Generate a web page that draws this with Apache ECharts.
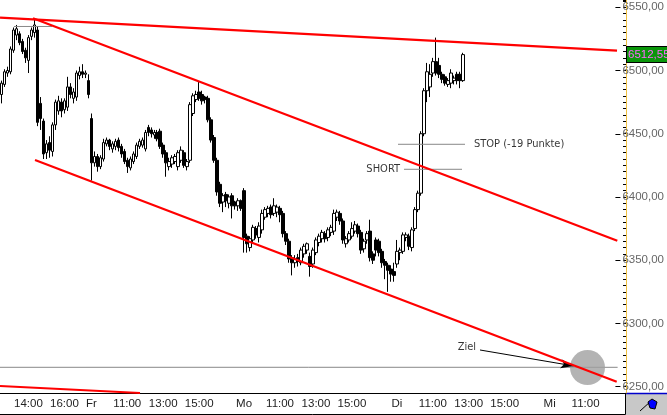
<!DOCTYPE html>
<html>
<head>
<meta charset="utf-8">
<script src="https://cdn.jsdelivr.net/npm/echarts@6/dist/echarts.min.js"></script>
<style>
html,body{margin:0;padding:0;background:#fff;}
#c{width:667px;height:415px;}
</style>
</head>
<body>
<div id="c"></div>
<script>
// ---- sessions (day, first bar time, number of 10-minute bars) ----
const sessions = [['Do','12:30',30],['Fr','09:00',51],['Mo','09:00',51],['Di','09:00',51],['Mi','09:00',26]];
// ---- x tick labels shown ----
const xTickLabels = ['Do 14:00','Do 16:00','Fr 09:00','Fr 11:00','Fr 13:00','Fr 15:00','Mo 09:00','Mo 11:00','Mo 13:00','Mo 15:00','Di 09:00','Di 11:00','Di 13:00','Di 15:00','Mi 09:00','Mi 11:00'];
// ---- candles [open, close, low, high] ----
const thu = [
[6481,6490,6474,6492],[6489,6499,6487,6501],[6498,6500,6495,6503],[6499,6517,6497,6519],[6516,6532,6514,6534],
[6528,6533,6524,6536],[6529,6522,6520,6531],[6523,6515,6513,6525],[6516,6510,6506,6518],[6508,6526,6498,6528],
[6527,6532,6524,6534],[6530,6536,6526,6541],[6532,6459,6456,6535],[6474,6462,6453,6479],[6460,6434,6430,6462],
[6435,6442,6430,6445],[6443,6437,6431,6448],[6436,6457,6432,6459],[6457,6475,6453,6477],[6468,6476,6465,6480],
[6475,6468,6463,6478],[6469,6476,6466,6478],[6471,6487,6468,6495],[6487,6481,6478,6490],[6478,6483,6474,6486],
[6479,6498,6476,6500],[6496,6499,6493,6503],[6499,6497,6494,6505],[6497,6498,6494,6500],[6492,6481,6478,6497]
];
const fri = [
[6462,6427,6413,6466],[6427,6432,6424,6436],[6432,6424,6420,6434],[6424,6431,6422,6433],[6430,6443,6428,6446],
[6442,6445,6440,6447],[6445,6440,6437,6446],[6438,6442,6435,6444],[6440,6444,6437,6446],[6445,6439,6436,6447],
[6440,6434,6431,6442],[6436,6428,6426,6438],[6429,6424,6419,6431],[6423,6430,6421,6432],[6428,6434,6426,6436],
[6432,6441,6430,6443],[6440,6444,6438,6446],[6441,6445,6439,6447],[6438,6451,6436,6453],[6455,6451,6448,6457],
[6453,6450,6447,6455],[6449,6451,6446,6453],[6451,6446,6444,6453],[6452,6440,6438,6454],[6441,6434,6431,6443],
[6435,6427,6416,6437],[6424,6428,6421,6431],[6426,6431,6423,6433],[6428,6432,6426,6434],[6424,6435,6421,6437],
[6429,6437,6427,6440],[6435,6425,6423,6437],[6424,6428,6421,6430],[6429,6473,6427,6475],[6466,6480,6464,6482],
[6477,6481,6475,6484],[6483,6478,6476,6491],[6481,6476,6473,6484],[6479,6477,6474,6480],[6478,6461,6459,6480],
[6461,6445,6443,6463],[6447,6429,6427,6449],[6429,6404,6401,6431],[6410,6395,6392,6412],[6396,6401,6388,6403],
[6402,6397,6392,6404],[6395,6400,6391,6402],[6401,6393,6383,6403],[6396,6393,6390,6397],[6393,6397,6389,6399],
[6397,6391,6389,6398]
];
const mon = [
[6405,6368,6356,6407],[6369,6363,6356,6371],[6360,6367,6357,6369],[6366,6376,6363,6378],[6375,6370,6367,6377],
[6368,6377,6364,6380],[6374,6387,6371,6390],[6384,6390,6382,6392],[6387,6391,6384,6393],[6392,6386,6383,6394],
[6387,6393,6385,6399],[6388,6392,6384,6394],[6391,6386,6380,6393],[6387,6371,6368,6389],[6371,6365,6362,6373],
[6365,6351,6348,6367],[6352,6348,6338,6354],[6348,6351,6344,6354],[6352,6349,6345,6355],[6348,6358,6346,6360],
[6355,6361,6352,6363],[6358,6363,6355,6364],[6353,6345,6337,6356],[6347,6358,6344,6360],[6356,6366,6354,6368],
[6364,6369,6361,6371],[6367,6372,6364,6374],[6371,6367,6364,6373],[6368,6374,6365,6376],[6372,6376,6369,6378],
[6373,6387,6370,6390],[6384,6388,6381,6390],[6387,6381,6378,6389],[6381,6366,6363,6383],[6363,6367,6360,6369],
[6366,6371,6364,6373],[6369,6375,6367,6380],[6373,6378,6371,6381],[6377,6371,6368,6379],[6372,6358,6355,6374],
[6359,6365,6356,6367],[6366,6371,6363,6373],[6373,6352,6349,6382],[6355,6350,6347,6357],[6366,6358,6353,6368],
[6365,6356,6353,6367],[6357,6348,6344,6359],[6349,6346,6335,6351],[6346,6342,6325,6348],[6343,6339,6333,6346],
[6341,6338,6333,6348]
];
const tue = [
[6347,6357,6344,6366],[6356,6358,6350,6360],[6357,6370,6355,6372],[6368,6370,6365,6372],[6369,6361,6358,6371],
[6360,6374,6357,6376],[6375,6390,6373,6392],[6390,6403,6388,6405],[6403,6450,6401,6452],[6450,6484,6448,6486],
[6484,6499,6475,6506],[6487,6497,6479,6505],[6498,6507,6495,6510],[6507,6498,6496,6526],[6504,6497,6494,6510],
[6497,6493,6490,6499],[6495,6490,6488,6497],[6489,6492,6487,6494],[6490,6498,6486,6501],[6492,6494,6489,6496],
[6497,6492,6489,6499],[6497,6492,6486,6499],[6492,6512.55,6491,6514]
];
// ---- drawn lines, endpoints as [bar index, price] ----
const resistanceLine = [[-0.5,6541.75],[205.5,6515.66]];
const channelUpper   = [[10.52,6541.35],[205.6,6365.42]];
const channelLower   = [[11.19,6429.23],[205.4,6253.93]];
const lowerLeftLine  = [[-0.5,6250.53],[46.24,6245.0]];
const prevHighMark   = [[4.17,6534.8],[16.86,6534.8]];
const stopLevel      = [[132.38,6441.65],[154.75,6441.65]];
const shortLevel     = [[134.38,6421.88],[153.75,6421.88]];
const targetLevel    = [[-0.5,6265.32],[205.7,6265.32]];
const targetZone     = [[195.65,6265.16]];
const targetArrow    = [[159.76,6279.0],[191.0,6266.4]];
// ---- y axis ticks ----
const yMin = 6245, yMax = 6555.74, yMinorStep = 5;
const yLabelMin = 6250, yLabelMax = 6550, yLabelStep = 50;

const categories = [];
sessions.forEach(([d, start, n]) => {
  const [h, m] = start.split(':').map(Number);
  const t0 = h * 60 + m;
  for (let k = 0; k < n; k++) {
    const t = t0 + 10 * k;
    categories.push(d + ' ' + String(Math.floor(t / 60)).padStart(2, '0') + ':' + String(t % 60).padStart(2, '0'));
  }
});
const N = categories.length;
const ohlc = [].concat(thu, fri, mon, tue);
const lastClose = ohlc[ohlc.length - 1][1];
const fmt = v => Number(v).toFixed(2).replace('.', ',');
const AXIS_FONT = "'Liberation Sans',Arial,sans-serif";
const NOTE_FONT = "'DejaVu Sans Condensed','Liberation Sans',sans-serif";

function seg(name, pts, color, width, z, clip) {
  return {
    type: 'line', name: name, xAxisIndex: 1, yAxisIndex: 0, data: pts,
    symbol: 'none', silent: true, z: z, clip: clip !== false,
    lineStyle: { color: color, width: width }
  };
}
function note(text, pt, pos, dist, off) {
  return {
    value: pt,
    label: { show: true, formatter: text, position: pos, distance: dist, offset: off || [0, 0],
      color: '#000', fontFamily: NOTE_FONT, fontSize: 11 }
  };
}

const chart = echarts.init(document.getElementById('c'), null, { renderer: 'canvas', width: 667, height: 415 });
chart.setOption({
  animation: false,
  backgroundColor: '#ffffff',
  grid: [
    { left: 0, right: 41, top: 0, height: 393 },
    { left: 0, right: 41, top: 7.3, height: 379.4 }
  ],
  xAxis: [
    { type: 'category', gridIndex: 0, data: categories, boundaryGap: true,
      axisLine: { onZero: false, lineStyle: { color: '#000', width: 1 } },
      axisTick: { show: false }, splitLine: { show: false },
      axisLabel: { interval: (i, v) => xTickLabels.indexOf(v) >= 0,
        formatter: v => v.slice(3) === '09:00' ? v.slice(0, 2) : v.slice(3),
        color: '#222', fontFamily: AXIS_FONT, fontSize: 11.5, margin: 5 } },
    { type: 'value', gridIndex: 0, min: -0.5, max: N - 0.5, show: false },
    { type: 'value', gridIndex: 1, min: 0, max: 1, show: false }
  ],
  yAxis: [
    { type: 'value', gridIndex: 0, position: 'right', min: yMin, max: yMax, interval: yMinorStep,
      axisLine: { show: true, onZero: false, lineStyle: { color: '#f0c040', width: 1 } },
      axisTick: { show: true, inside: true, length: 3, lineStyle: { color: '#000' } },
      axisLabel: { show: false }, splitLine: { show: false } },
    { type: 'value', gridIndex: 1, position: 'right', min: yLabelMin, max: yLabelMax, interval: yLabelStep,
      axisLine: { show: false, onZero: false },
      axisTick: { show: true, inside: true, length: 5, lineStyle: { color: '#000' } },
      axisLabel: { color: '#666', fontFamily: AXIS_FONT, fontSize: 11.5, margin: 2, formatter: fmt },
      splitLine: { show: false } }
  ],
  series: [
    seg('target level', targetLevel, '#888', 1, 2),
    { type: 'scatter', xAxisIndex: 1, yAxisIndex: 0, data: targetZone, symbolSize: 35, silent: true, z: 3,
      itemStyle: { color: '#a0a0a0' } },
    { type: 'candlestick', xAxisIndex: 0, yAxisIndex: 0, data: ohlc, barWidth: 3, z: 4, silent: true,
      itemStyle: { color: '#ffffff', color0: '#000000', borderColor: '#000000', borderColor0: '#000000', borderWidth: 1 },
      markLine: { silent: true, symbol: ['none', 'none'], animation: false,
        lineStyle: { color: 'rgba(0,0,0,0)', width: 1, type: 'solid' },
        data: [{ yAxis: lastClose }],
        label: { show: true, position: 'end', distance: 1, formatter: p => fmt(p.value),
          color: '#ff66ff', backgroundColor: '#0a960a', borderColor: '#000', borderWidth: 1,
          padding: [2, 1, 1, 1], fontFamily: AXIS_FONT, fontSize: 11.5 } } },
    seg('prev high', prevHighMark, '#888', 1, 6),
    seg('stop', stopLevel, '#888', 1, 6),
    seg('short', shortLevel, '#888', 1, 6),
    seg('resistance', resistanceLine, '#ff0000', 2.2, 7),
    seg('channel upper', channelUpper, '#ff0000', 2.2, 7),
    seg('channel lower', channelLower, '#ff0000', 2.2, 7),
    seg('lower left', lowerLeftLine, '#ff0000', 2.2, 7, false),
    { type: 'line', xAxisIndex: 1, yAxisIndex: 0, data: [], z: 8, silent: true,
      markLine: { silent: true, animation: false, symbol: ['none', 'arrow'], symbolSize: [7, 13],
        lineStyle: { color: '#000', width: 1, type: 'solid' }, label: { show: false },
        data: [[{ coord: targetArrow[0] }, { coord: targetArrow[1] }]] } },
    { type: 'scatter', xAxisIndex: 1, yAxisIndex: 0, symbolSize: 0, silent: true, z: 9,
      itemStyle: { color: 'rgba(0,0,0,0)' },
      data: [
        note('Ziel', targetArrow[0], 'left', 4, [0, -3]),
        note('STOP (-19 Punkte)', stopLevel[1], 'right', 9),
        note('SHORT', shortLevel[0], 'left', 4)
      ] }
  ],
  graphic: [
    { type: 'polyline', silent: true, shape: { points: [[0, 414.5], [625.5, 414.5], [625.5, 393]] },
      style: { stroke: '#000', lineWidth: 1, fill: null } },
    { type: 'rect', silent: true, shape: { x: 626, y: 394, width: 41, height: 21 }, style: { fill: '#c8c8c8' } },
    { type: 'line', silent: true, shape: { x1: 625.5, y1: 393.5, x2: 667, y2: 393.5 }, style: { stroke: '#0000cc', lineWidth: 1.5 } },
    { type: 'line', silent: true, shape: { x1: 640, y1: 411, x2: 651, y2: 401 }, style: { stroke: '#000', lineWidth: 1 } },
    { type: 'polygon', silent: true, shape: { points: [[648, 402], [652, 399], [657, 402], [655, 409], [650, 408]] },
      style: { fill: '#0000ff', stroke: '#000', lineWidth: 1 } }
  ]
});
</script>
</body>
</html>
